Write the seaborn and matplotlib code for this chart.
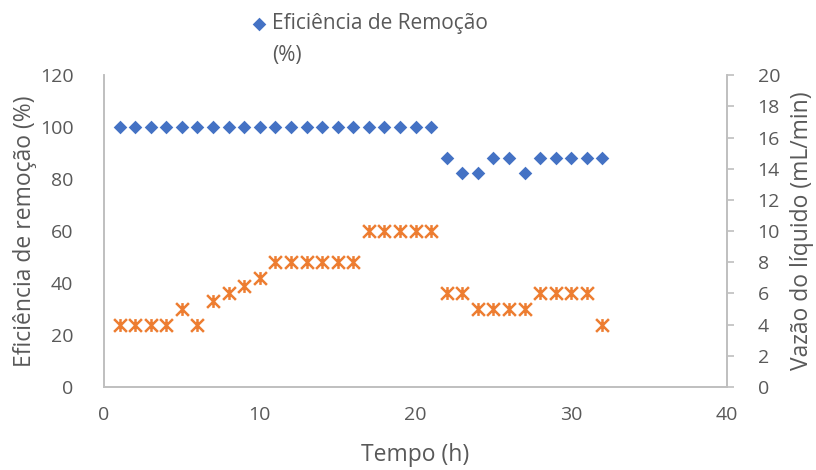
import matplotlib
matplotlib.use("Agg")
import matplotlib.pyplot as plt
from matplotlib.path import Path
import seaborn as sns
import pandas as pd

# Data
tempo = list(range(1, 33))
eficiencia = [100] * 21 + [88.2, 82.4, 82.4, 88.2, 88.2, 82.4,
                           88.2, 88.2, 88.2, 88.2, 88.2]
vazao = [4, 4, 4, 4, 5, 4, 5.5, 6, 6.5, 7,
         8, 8, 8, 8, 8, 8,
         10, 10, 10, 10, 10,
         6, 6, 5, 5, 5, 5, 6, 6, 6, 6, 4]

df = pd.DataFrame({"Tempo": tempo, "Eficiencia": eficiencia, "Vazao": vazao})

sns.set_style("white")
plt.rcParams["font.family"] = ["Open Sans", "DejaVu Sans"]
txt = "#595959"
grey = "#BFBFBF"
blue = "#4472C4"
orange = "#ED7D31"

# Excel-style "star" marker: an X with a vertical bar
star = Path([(-1, -1), (1, 1), (-1, 1), (1, -1), (0, -1), (0, 1)],
            [Path.MOVETO, Path.LINETO] * 3)

fig = plt.figure(figsize=(8.16, 4.7), dpi=100)
ax = fig.add_axes([0.1275, 0.1766, 0.7635, 0.6634])
ax2 = ax.twinx()

sns.scatterplot(data=df, x="Tempo", y="Eficiencia", ax=ax, marker="D",
                color=blue, s=48, edgecolor=blue, linewidth=0,
                label="Eficiência de Remoção", zorder=3)
sns.scatterplot(data=df, x="Tempo", y="Vazao", ax=ax2, marker=star,
                color=orange, s=85, edgecolor=orange, linewidth=1.8,
                legend=False, zorder=3)

ax.set_xlim(0, 40)
ax.set_ylim(0, 120)
ax2.set_ylim(0, 20)
ax.set_xticks(range(0, 41, 10))
ax.set_yticks(range(0, 121, 20))
ax2.set_yticks(range(0, 21, 2))

ax.set_xlabel("Tempo (h)", fontsize=16.5, color=txt)
ax.set_ylabel("Eficiência de remoção (%)", fontsize=16.5, color=txt)
ax2.set_ylabel("Vazão do líquido (mL/min)", fontsize=16.5, color=txt)
ax.xaxis.set_label_coords(0.5, -0.18)
ax.yaxis.set_label_coords(-0.108, 0.5)
ax2.yaxis.set_label_coords(1.101, 0.5)

for a in (ax, ax2):
    for s in a.spines.values():
        s.set_color(grey)
        s.set_linewidth(1.2)
    a.spines["top"].set_visible(False)

ax.tick_params(axis="x", labelsize=14, colors=txt, length=0, pad=14)
ax.tick_params(axis="y", labelsize=14, colors=txt, length=0, pad=22)
ax2.tick_params(axis="y", labelsize=14, labelcolor=txt, color=grey,
                length=5, width=1.2, direction="out", pad=17)

leg = ax.legend(loc="upper left", bbox_to_anchor=(251 / 816, 1 - 13 / 470),
                bbox_transform=fig.transFigure, frameon=False, fontsize=15,
                handletextpad=0.2, handlelength=0.8, borderpad=0,
                borderaxespad=0)
for t in leg.get_texts():
    t.set_color(txt)
fig.text(272 / 816, 1 - 56 / 470, "(%)", fontsize=15, color=txt,
         ha="left", va="center")

fig.savefig("out.png", dpi=100)
